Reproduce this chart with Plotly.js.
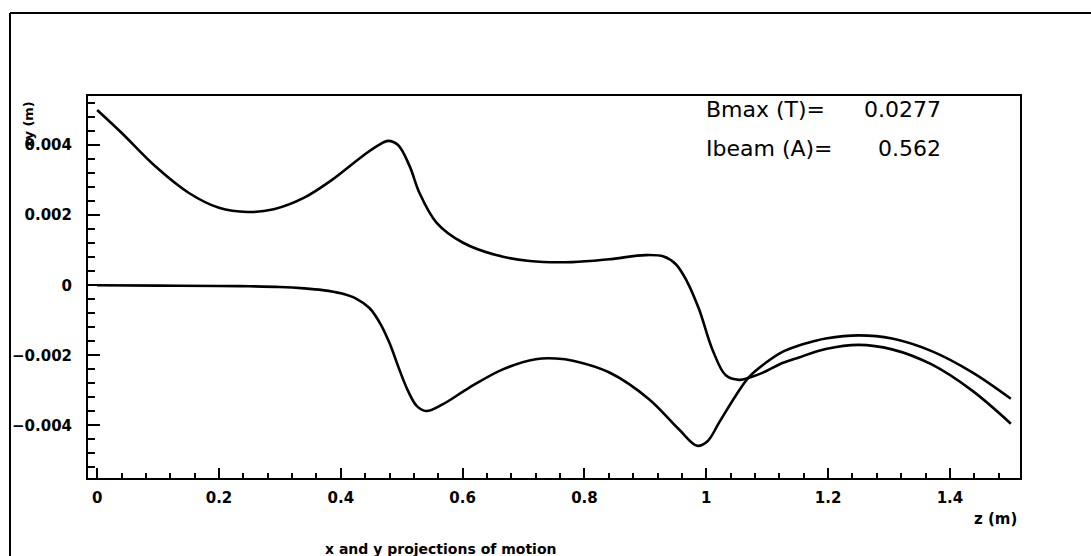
<!DOCTYPE html>
<html><head><meta charset="utf-8">
<script src="https://cdn.plot.ly/plotly-3.0.1.min.js"></script>
<style>html,body{margin:0;padding:0;background:#fff}#chart{width:1091px;height:556px}</style>
</head><body><div id="chart"></div>
<script>
// projection 1 (starts at 0.005 m)
const zA = [0, 0.04, 0.095, 0.15, 0.2, 0.247, 0.29, 0.34, 0.385, 0.436, 0.462, 0.478, 0.494, 0.513, 0.529, 0.557, 0.6, 0.655, 0.71, 0.78, 0.84, 0.9, 0.93, 0.95, 0.968, 0.988, 1.01, 1.032, 1.054, 1.07, 1.097, 1.125, 1.152, 1.196, 1.25, 1.305, 1.37, 1.436, 1.5];
const yA = [0.0050, 0.00435, 0.0034, 0.00264, 0.00221, 0.00209, 0.00217, 0.0025, 0.0030, 0.00369, 0.00400, 0.00412, 0.00400, 0.0034, 0.00264, 0.00179, 0.00122, 0.00086, 0.00069, 0.00066, 0.00074, 0.00086, 0.00082, 0.0006, 0.00012, -0.00068, -0.00183, -0.00257, -0.0027, -0.00264, -0.00246, -0.00222, -0.00206, -0.00182, -0.00170, -0.00183, -0.00226, -0.00300, -0.00395];
// projection 2 (starts at 0 m)
const zB = [0, 0.1, 0.2, 0.25, 0.3, 0.34, 0.37, 0.4, 0.425, 0.447, 0.465, 0.48, 0.496, 0.51, 0.525, 0.54, 0.567, 0.611, 0.666, 0.72, 0.753, 0.783, 0.841, 0.906, 0.955, 0.985, 1.002, 1.021, 1.048, 1.07, 1.097, 1.125, 1.152, 1.176, 1.196, 1.25, 1.305, 1.37, 1.436, 1.5];
const yB = [0, -0.00001, -0.00002, -0.00003, -0.00005, -0.00009, -0.00014, -0.00023, -0.00038, -0.00065, -0.0011, -0.00165, -0.0024, -0.003, -0.00345, -0.00359, -0.0034, -0.00292, -0.0024, -0.00211, -0.00209, -0.00216, -0.00249, -0.00325, -0.00411, -0.00458, -0.00445, -0.00392, -0.00316, -0.00262, -0.00222, -0.0019, -0.00172, -0.0016, -0.00152, -0.00143, -0.00152, -0.00188, -0.00248, -0.00324];

const infoLabels = ["Bmax (T)=", "Ibeam (A)="];
const infoValues = ["0.0277", "0.562"];
const xTitle = "z (m)";
const yTitle = "xy (m)";
const caption = "x and y projections of motion";

const lineStyle = {color: '#000', width: 2.6, shape: 'spline', smoothing: 1.0};
const traces = [
  {x: zA, y: yA, mode: 'lines', line: lineStyle, showlegend: false, hoverinfo: 'skip'},
  {x: zB, y: yB, mode: 'lines', line: lineStyle, showlegend: false, hoverinfo: 'skip'}
];

const boldFam = 'DejaVu Sans, sans-serif';
const tickFont = {family: boldFam, size: 15, color: '#000', weight: 'bold'};
const infoFont = {family: 'DejaVu Sans, sans-serif', size: 22, color: '#000'};

const fx = (px) => (px - 88) / 932;
const fy = (py) => (478 - py) / 382;

const annotations = [];
const infoY = [109, 148];
infoLabels.forEach((t, i) => {
  annotations.push({xref: 'paper', yref: 'paper', x: fx(704), y: fy(infoY[i]),
    xanchor: 'left', yanchor: 'middle', text: t, showarrow: false, font: infoFont});
  annotations.push({xref: 'paper', yref: 'paper', x: fx(943), y: fy(infoY[i]),
    xanchor: 'right', yanchor: 'middle', text: infoValues[i], showarrow: false, font: infoFont});
});
annotations.push({xref: 'paper', yref: 'paper', x: fx(1019), y: fy(519),
  xanchor: 'right', yanchor: 'middle', text: xTitle, showarrow: false,
  font: {family: boldFam, size: 15, color: '#000', weight: 'bold'}});
annotations.push({xref: 'paper', yref: 'paper', x: fx(441), y: fy(549),
  xanchor: 'center', yanchor: 'middle', text: caption, showarrow: false,
  font: {family: boldFam, size: 14, color: '#000', weight: 'bold'}});
annotations.push({xref: 'paper', yref: 'paper', x: fx(28), y: fy(125),
  xanchor: 'center', yanchor: 'middle', text: yTitle, textangle: -90, showarrow: false,
  font: {family: boldFam, size: 13, color: '#000', weight: 'bold'}});

const layout = {
  width: 1091, height: 556,
  margin: {l: 88, r: 71, t: 96, b: 78},
  paper_bgcolor: '#fff', plot_bgcolor: '#fff',
  showlegend: false,
  xaxis: {
    range: [-0.015, 1.515], dtick: 0.2, tick0: 0,
    showgrid: false, zeroline: false,
    showline: true, linecolor: '#000', linewidth: 2, mirror: true,
    ticks: 'inside', ticklen: 10, tickwidth: 2, tickcolor: '#000',
    minor: {dtick: 0.04, tick0: 0, ticks: 'inside', ticklen: 5, tickwidth: 2, tickcolor: '#000', showgrid: false},
    tickfont: tickFont, ticklabelstandoff: 5
  },
  yaxis: {
    range: [-0.0055, 0.0054], dtick: 0.002, tick0: 0,
    showgrid: false, zeroline: false,
    showline: true, linecolor: '#000', linewidth: 2, mirror: true,
    ticks: 'inside', ticklen: 12, tickwidth: 2, tickcolor: '#000',
    minor: {dtick: 0.0004, tick0: 0, ticks: 'inside', ticklen: 7, tickwidth: 2, tickcolor: '#000', showgrid: false},
    tickfont: tickFont, ticklabelstandoff: 11
  },
  annotations: annotations,
  shapes: [
    {type: 'line', xref: 'paper', yref: 'paper', x0: fx(10), y0: fy(13), x1: fx(10), y1: fy(600), line: {color: '#000', width: 2}},
    {type: 'line', xref: 'paper', yref: 'paper', x0: fx(10), y0: fy(13), x1: fx(1100), y1: fy(13), line: {color: '#000', width: 2}}
  ]
};

Plotly.newPlot('chart', traces, layout, {staticPlot: true, displayModeBar: false});
</script>
</body></html>
